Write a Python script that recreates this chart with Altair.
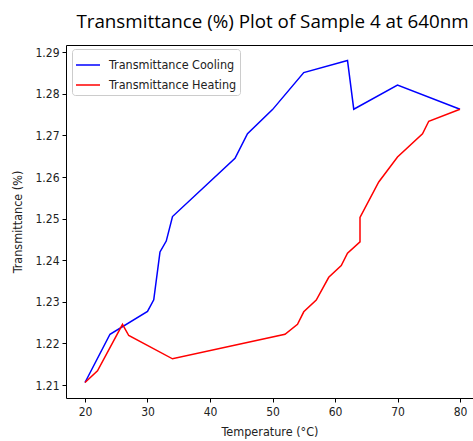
import altair as alt
import pandas as pd

cool_temp = [20, 24, 30, 31, 32, 33, 34, 44, 46, 50, 55, 62, 63, 70, 80]
cool_val = [1.2106, 1.2222, 1.2277, 1.2305, 1.2420, 1.2446, 1.2505, 1.2645, 1.2704,
            1.2762, 1.2851, 1.2880, 1.2763, 1.2821, 1.2763]

heat_temp = [20, 22, 26, 27, 34, 52, 54, 55, 57, 59, 61, 62, 64, 64, 67, 70, 74, 75, 80]
heat_val = [1.2106, 1.2134, 1.2246, 1.2219, 1.2163, 1.2222, 1.2246, 1.2276, 1.2304,
            1.2359, 1.2387, 1.2417, 1.2444, 1.2503, 1.2588, 1.2648, 1.2704, 1.2734, 1.2763]

series_names = ["Transmittance Cooling", "Transmittance Heating"]
series_colors = ["#0000ff", "#ff0000"]
x_ticks = [20, 30, 40, 50, 60, 70, 80]
y_ticks = [1.21, 1.22, 1.23, 1.24, 1.25, 1.26, 1.27, 1.28, 1.29]

rows = []
for i, (t, v) in enumerate(zip(cool_temp, cool_val)):
    rows.append({"temp": t, "val": v, "series": series_names[0], "idx": i})
for i, (t, v) in enumerate(zip(heat_temp, heat_val)):
    rows.append({"temp": t, "val": v, "series": series_names[1], "idx": i})
df = pd.DataFrame(rows)

FONT = "DejaVu Sans Condensed, DejaVu Sans"
xscale = alt.Scale(domain=[16.96, 82.08], nice=False, zero=False)
yscale = alt.Scale(domain=[1.20688, 1.29173], nice=False, zero=False)

lines = alt.Chart(df).mark_line(strokeWidth=1.5).encode(
    x=alt.X("temp:Q", scale=xscale,
            axis=alt.Axis(values=x_ticks, format="d", title="Temperature (°C)",
                          orient="bottom", grid=False, domainColor="#000",
                          tickColor="#000", tickSize=4, labelFont=FONT,
                          labelFontSize=12, labelColor="#222", labelPadding=4,
                          titleFont=FONT, titleFontSize=12.5, titleFontWeight="normal",
                          titleColor="#222", titlePadding=8)),
    y=alt.Y("val:Q", scale=yscale,
            axis=alt.Axis(values=y_ticks, format=".2f", title="Transmittance (%)",
                          grid=False, domainColor="#000", tickColor="#000",
                          tickSize=4, labelFont=FONT, labelFontSize=12,
                          labelColor="#222", labelPadding=3, titleFont=FONT,
                          titleFontSize=12.5, titleFontWeight="normal",
                          titleColor="#222", titlePadding=10)),
    color=alt.Color("series:N",
                    scale=alt.Scale(domain=series_names, range=series_colors),
                    legend=alt.Legend(title=None, orient="none", legendX=6, legendY=4,
                                      symbolType="stroke", symbolSize=576,
                                      symbolStrokeWidth=1.5, labelFont=FONT,
                                      labelFontSize=12.5, labelColor="#222",
                                      labelOffset=8, rowPadding=-1.5,
                                      padding=3, strokeColor="#cccccc",
                                      fillColor="#ffffff", cornerRadius=3)),
    order="idx:Q",
)

topframe = alt.Chart(df).mark_point(opacity=0).encode(
    x=alt.X("temp:Q", scale=xscale,
            axis=alt.Axis(orient="top", labels=False, ticks=False, title=None,
                          grid=False, domainColor="#000")),
    y=alt.Y("val:Q", scale=yscale),
)

chart = alt.layer(lines, topframe).resolve_axis(x="independent").properties(
    width=407, height=353,
    title=alt.Title("Transmittance (%) Plot of Sample 4 at 640nm", font="Open Sans",
                    fontSize=18.8, fontWeight="normal", color="#000", anchor="middle",
                    offset=13, dx=3),
    autosize=alt.AutoSizeParams(type="none"),
    padding={"left": 66, "top": 45, "right": 0, "bottom": 43},
).configure_view(stroke=None)

chart.save("out.html", embed_options={"renderer": "svg", "actions": False})
